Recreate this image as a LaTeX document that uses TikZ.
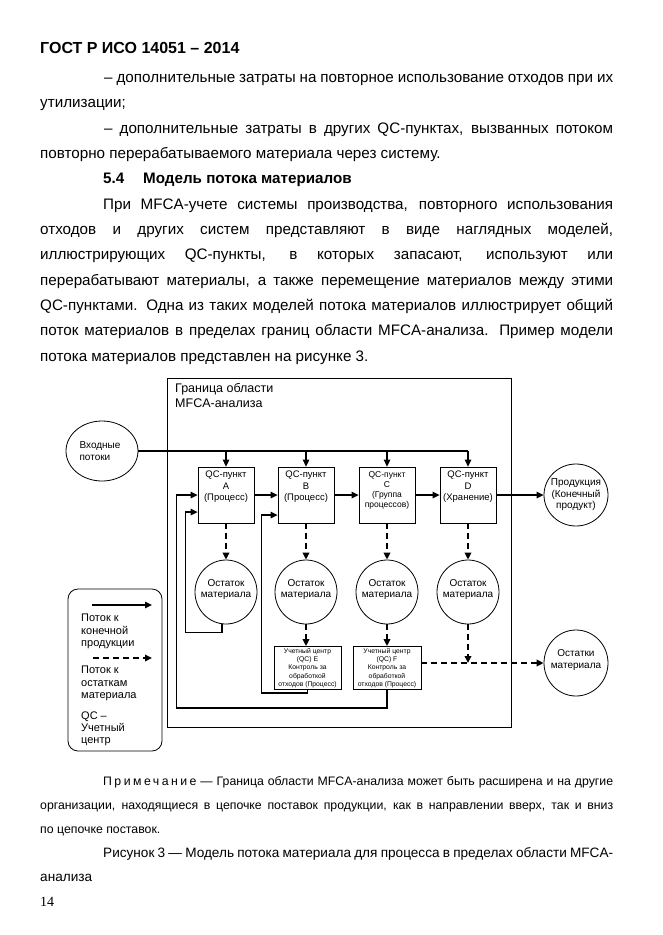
\documentclass[tikz,border=0pt]{standalone}
\usepackage{fontspec}
\setmainfont{Liberation Sans}
\newfontfamily\pnfont{Liberation Serif}
\usetikzlibrary{arrows.meta,shapes.geometric,calc}
\begin{document}
\begin{tikzpicture}[x=1pt,y=-1pt,
 txt/.style={anchor=base west,inner sep=0pt,font=\fontsize{15.2}{18}\selectfont},
 btxt/.style={anchor=base west,inner sep=0pt,font=\fontsize{15.2}{18}\selectfont\bfseries},
 ntxt/.style={anchor=base west,inner sep=0pt,font=\fontsize{12.3}{14}\selectfont},
 captxt/.style={anchor=base west,inner sep=0pt,font=\fontsize{13.6}{16}\selectfont},
 flow/.style={line width=1.3pt,-{Triangle[length=7pt,width=6.5pt]}},
 plainln/.style={line width=1.3pt},
 dflow/.style={line width=1.8pt,dash pattern=on 6pt off 4pt,-{Triangle[length=7pt,width=6.5pt]}},
 qc/.style={draw,line width=0.8pt,minimum width=56pt,minimum height=56pt,inner sep=0pt},
 ell/.style={draw,ellipse,line width=0.8pt,inner sep=0pt},
 ct/.style={inner sep=0pt,align=center,font=\fontsize{9.5}{11.5}\selectfont},
 cts/.style={inner sep=0pt,align=center,font=\fontsize{8.5}{10}\selectfont},
 ctt/.style={inner sep=0pt,align=center,font=\fontsize{6.8}{8.2}\selectfont},
 ctc/.style={inner sep=0pt,align=center,font=\fontsize{10}{11.5}\selectfont},
 legt/.style={anchor=base west,inner sep=0pt,font=\fontsize{11}{13}\selectfont},
 ebox/.style={draw,line width=0.8pt,minimum width=67pt,minimum height=43pt,inner sep=0pt}
]
\useasboundingbox[fill=white] (0,0) rectangle (662,935);

% ---------- page text ----------
\node[btxt,font=\fontsize{16}{18}\selectfont\bfseries] (h0) at (40,53) {ГОСТ Р ИСО 14051 – 2014};
\node[txt] (l1) at (104,82.3) {\makebox[509pt][s]{– дополнительные затраты на повторное использование отходов при их}};
\node[txt] (l2) at (40,107.7) {утилизации;};
\node[txt] (l3) at (104,133) {\makebox[509pt][s]{– дополнительные затраты в других QC-пунктах, вызванных потоком}};
\node[txt] (l4) at (40,158.3) {повторно перерабатываемого материала через систему.};
\node[btxt] (l5a) at (103,183.7) {5.4};
\node[btxt] (l5b) at (143,183.7) {Модель потока материалов};
\node[txt] (l6) at (103,209) {\makebox[510pt][s]{При MFCA-учете системы производства, повторного использования}};
\node[txt] (l7) at (40,234.3) {\makebox[573pt][s]{отходов и других систем представляют в виде наглядных моделей,}};
\node[txt] (l8) at (40,259.7) {\makebox[573pt][s]{иллюстрирующих QC-пункты, в которых запасают, используют или}};
\node[txt] (l9) at (40,285) {\makebox[573pt][s]{перерабатывают материалы, а также перемещение материалов между этими}};
\node[txt] (l10) at (40,310.3) {\makebox[573pt][s]{QC-пунктами. Одна из таких моделей потока материалов иллюстрирует общий}};
\node[txt] (l11) at (40,335.7) {\makebox[573pt][s]{поток материалов в пределах границ области MFCA-анализа. Пример модели}};
\node[txt] (l12) at (40,361) {потока материалов представлен на рисунке 3.};

\node[ntxt] (n1) at (103,785) {\makebox[510pt][s]{{\addfontfeatures{LetterSpace=20}Примечание} — Граница области MFCA-анализа может быть расширена и на другие}};
\node[ntxt] (n2) at (40,809) {\makebox[573pt][s]{организации, находящиеся в цепочке поставок продукции, как в направлении вверх, так и вниз}};
\node[ntxt] (n3) at (40,833) {по цепочке поставок.};
\node[captxt] (c1) at (103,857) {\makebox[510pt][s]{Рисунок 3 — Модель потока материала для процесса в пределах области MFCA-}};
\node[captxt] (c2) at (40,881) {анализа};
\node[anchor=base west,inner sep=0pt,font=\fontsize{14}{17}\pnfont] (pg) at (40,906) {14};

% ---------- diagram ----------
\node[draw,line width=0.9pt,minimum width=344pt,minimum height=349pt,inner sep=0pt,anchor=north west] (bnd) at (167,378) {};
\node[anchor=base west,inner sep=0pt,font=\fontsize{12.5}{15}\selectfont] (bl1) at (175,392) {Граница области};
\node[anchor=base west,inner sep=0pt,font=\fontsize{12.5}{15}\selectfont] (bl2) at (175,407) {MFCA-анализа};

\node[ell,minimum width=72pt,minimum height=60pt] (in) at (102,451) {};
\node[ctc,align=left] (int) at ([xshift=-2pt]in) {Входные\\потоки};

\node[qc] (A) at (226,495) {};
\node[qc] (B) at (306,495) {};
\node[qc] (C) at (387,495) {};
\node[qc] (D) at (468,495) {};
\node[ct] (At) at ([yshift=8pt]A) {QC-пункт\\A\\(Процесс)};
\node[ct] (Bt) at ([yshift=8pt]B) {QC-пункт\\B\\(Процесс)};
\node[cts] (Ct) at ([yshift=5pt]C) {QC-пункт\\C\\(Группа\\процессов)};
\node[ct] (Dt) at ([yshift=8pt]D) {QC-пункт\\D\\(Хранение)};

\node[ell,minimum width=64pt,minimum height=62pt] (prod) at (576,495) {};
\node[ctc] (prodt) at (prod) {Продукция\\(Конечный\\продукт)};

\node[ell,minimum width=62pt,minimum height=64pt] (rA) at (226,592) {};
\node[ell,minimum width=62pt,minimum height=64pt] (rB) at (306,592) {};
\node[ell,minimum width=62pt,minimum height=64pt] (rC) at (387,592) {};
\node[ell,minimum width=62pt,minimum height=64pt] (rD) at (468,592) {};
\node[ctc] (rAt) at ([yshift=2.5pt]rA) {Остаток\\материала};
\node[ctc] (rBt) at ([yshift=2.5pt]rB) {Остаток\\материала};
\node[ctc] (rCt) at ([yshift=2.5pt]rC) {Остаток\\материала};
\node[ctc] (rDt) at ([yshift=2.5pt]rD) {Остаток\\материала};

\node[ebox] (E) at (307.5,668) {};
\node[ebox,minimum width=68pt] (F) at (387,668) {};
\node[ctt] (Et) at (E) {Учетный центр\\(QC) E\\Контроль за\\обработкой\\отходов (Процесс)};
\node[ctt] (Ft) at (F) {Учетный центр\\(QC) F\\Контроль за\\обработкой\\отходов (Процесс)};

\node[ell,minimum width=64pt,minimum height=66pt] (out) at (576,663) {};
\node[ctc] (outt) at ([yshift=3pt]out) {Остатки\\материала};

% connectors
\draw[plainln] (in) -- (in -| D);
\foreach \n in {A,B,C,D} \draw[flow] (\n |- in) -- (\n.north);
\draw[flow] (A) -- (B);
\draw[flow] (B) -- (C);
\draw[flow] (C) -- (D);
\draw[flow] (D) -- (prod);
\foreach \n in {A,B,C,D} \draw[dflow] (\n) -- (r\n);
\draw[dflow] (rB) -- (rB |- E.north);
\draw[dflow] (rC) -- (F);
\draw[dflow] (rD) -- (rD |- out);
\draw[dflow] (F.east |- out) -- (out);
\draw[flow] ([xshift=-4pt]rA.south) -- ++(0,8) -| ([xshift=-12pt,yshift=-17pt]A.west) -- ([yshift=-17pt]A.west);
\draw[flow] (E.south) -- ++(0,3) -| ([xshift=-16pt,yshift=-20pt]B.west) -- ([yshift=-20pt]B.west);
\draw[flow] (F.south) -- ++(0,18) -| ([xshift=-21pt]A.west) -- (A.west);

% legend
\node[draw,rounded corners=10pt,line width=0.8pt,minimum width=94pt,minimum height=162pt,inner sep=0pt] (leg) at (115,670) {};
\coordinate (ls1) at (92,605);
\coordinate (le1) at (152,605);
\coordinate (ls2) at (93,658);
\coordinate (le2) at (152,658);
\draw[flow] (ls1) -- (le1);
\draw[dflow] (ls2) -- (le2);
\node[legt] (lg1) at (81,621.5) {Поток к};
\node[legt] (lg2) at (81,634) {конечной};
\node[legt] (lg3) at (81,646.5) {продукции};
\node[legt] (lg4) at (81,673.5) {Поток к};
\node[legt] (lg5) at (81,686) {остаткам};
\node[legt] (lg6) at (81,698.5) {материала};
\node[legt] (lg7) at (81,719) {QC –};
\node[legt] (lg8) at (81,731) {Учетный};
\node[legt] (lg9) at (81,743) {центр};
\end{tikzpicture}
\end{document}
